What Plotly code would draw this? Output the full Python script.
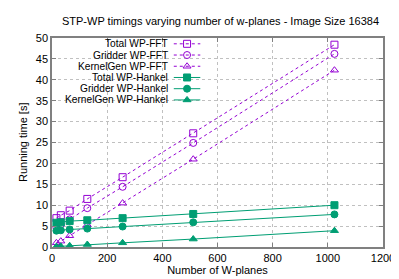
import plotly.graph_objects as go

# ---- data ----
w_planes = [16, 32, 64, 128, 256, 512, 1024]
total_fft = [6.9, 7.6, 8.7, 11.5, 16.7, 27.2, 48.4]
gridder_fft = [4.6, 5.4, 6.6, 9.3, 14.4, 24.9, 46.2]
kernelgen_fft = [1.0, 1.4, 2.7, 5.3, 10.5, 21.0, 42.3]
total_hankel = [5.8, 5.9, 6.2, 6.4, 6.9, 7.9, 10.0]
gridder_hankel = [3.9, 4.0, 4.2, 4.4, 4.9, 5.9, 7.8]
kernelgen_hankel = [0.1, 0.15, 0.3, 0.6, 1.0, 1.9, 3.9]

series_names = ["Total WP-FFT", "Gridder WP-FFT", "KernelGen WP-FFT",
                "Total WP-Hankel", "Gridder WP-Hankel", "KernelGen WP-Hankel"]
x_ticks = [0, 200, 400, 600, 800, 1000, 1200]
y_ticks = [0, 5, 10, 15, 20, 25, 30, 35, 40, 45, 50]

PURPLE = "#9400d3"
GREEN = "#009e73"
FONT = "Liberation Sans, Arial, sans-serif"

series = [
    (series_names[0], total_fft, PURPLE, "square-open", "3px,3px"),
    (series_names[1], gridder_fft, PURPLE, "circle-open", "3px,3px"),
    (series_names[2], kernelgen_fft, PURPLE, "triangle-up-open", "3px,3px"),
    (series_names[3], total_hankel, GREEN, "square", "solid"),
    (series_names[4], gridder_hankel, GREEN, "circle", "solid"),
    (series_names[5], kernelgen_hankel, GREEN, "triangle-up", "solid"),
]

fig = go.Figure()
for name, ys, col, sym, dash in series:
    fig.add_trace(go.Scatter(
        x=w_planes, y=ys, mode="lines+markers", name=name,
        line=dict(color=col, width=1, dash=dash),
        marker=dict(symbol=sym, size=7, color=col, line=dict(color=col, width=1)),
        showlegend=False,
    ))

# gnuplot-style key: text right-aligned, sample to its right (pixel-mapped overlay axes)
L, R, T, B = 44, 381, 30, 246
row_y = [36.0, 47.6, 59.2, 70.8, 82.4, 94.0]
for (name, ys, col, sym, dash), yy in zip(series, row_y):
    fig.add_trace(go.Scatter(
        x=[168, 195], y=[yy, yy], mode="lines", xaxis="x2", yaxis="y2",
        line=dict(color=col, width=1, dash=dash), showlegend=False, hoverinfo="skip"))
    fig.add_trace(go.Scatter(
        x=[181.5], y=[yy], mode="markers", xaxis="x2", yaxis="y2",
        marker=dict(symbol=sym, size=7, color=col, line=dict(color=col, width=1)),
        showlegend=False, hoverinfo="skip"))
    fig.add_annotation(x=163, y=yy, xref="x2", yref="y2", text=name, showarrow=False,
                       xanchor="right", yanchor="middle", borderpad=0,
                       font=dict(family=FONT, size=10.2, color="#000"))

# y-axis title placed like gnuplot's
fig.add_annotation(x=(14 - L) / (R - L), y=0.5, xref="paper", yref="paper",
                   text="Running time [s]", textangle=-90, showarrow=False,
                   xanchor="center", yanchor="middle",
                   font=dict(family=FONT, size=11, color="#000"))

axis_common = dict(
    showline=True, linecolor="#808080", linewidth=1.5, mirror="ticks",
    ticks="inside", ticklen=4, tickcolor="#808080",
    showgrid=True, gridcolor="#c0c0c0", griddash="dot", gridwidth=1,
    zeroline=False, tickfont=dict(family=FONT, size=11, color="#000"),
)

fig.update_layout(
    width=399, height=279,
    margin=dict(l=L, r=399 - R, t=T, b=279 - B),
    paper_bgcolor="white", plot_bgcolor="white",
    title=dict(text="STP-WP timings varying number of w-planes - Image Size 16384",
               x=(L + R) / 2 / 399, xanchor="center", y=1 - 13 / 279, yanchor="middle",
               font=dict(family=FONT, size=11, color="#000")),
    xaxis=dict(range=[0, 1200], tickvals=x_ticks,
               title=dict(text="Number of W-planes", standoff=3,
                          font=dict(family=FONT, size=11, color="#000")),
               **axis_common),
    yaxis=dict(range=[0, 50], tickvals=y_ticks, **axis_common),
    xaxis2=dict(overlaying="x", range=[L, R], visible=False, fixedrange=True),
    yaxis2=dict(overlaying="y", range=[B, T], visible=False, fixedrange=True),
    showlegend=False,
)

fig.write_html("out.html")
